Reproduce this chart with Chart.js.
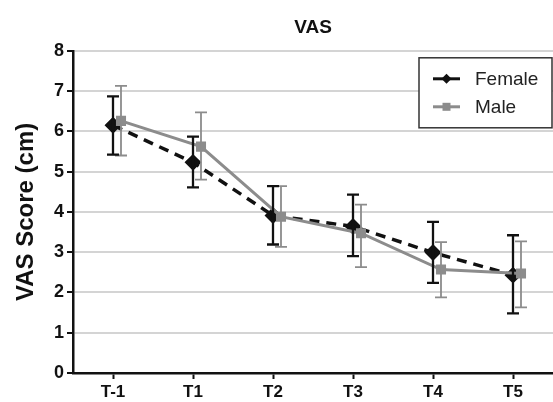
<!DOCTYPE html>
<html>
<head>
<meta charset="utf-8">
<script src="https://cdn.jsdelivr.net/npm/chart.js@4"></script>
<style>
  html, body { margin: 0; padding: 0; background: #fff; }
  #wrap { width: 553px; height: 402px; }
</style>
</head>
<body>
<div id="wrap"><canvas id="vasChart"></canvas></div>
<script>
// time points
const timePoints = ['T-1', 'T1', 'T2', 'T3', 'T4', 'T5'];

// female means and error bar ends
const femaleMean = [6.15, 5.23, 3.91, 3.64, 2.99, 2.43];
const femaleHigh = [6.87, 5.87, 4.64, 4.43, 3.75, 3.42];
const femaleLow  = [5.42, 4.61, 3.19, 2.90, 2.24, 1.48];

// male means and error bar ends
const maleMean = [6.26, 5.62, 3.88, 3.47, 2.57, 2.47];
const maleHigh = [7.13, 6.47, 4.64, 4.18, 3.25, 3.27];
const maleLow  = [5.40, 4.80, 3.13, 2.63, 1.88, 1.63];

const maleShift = 0.1; // male points sit a little to the right

const FONT = 'Liberation Sans, Arial, sans-serif';

const toPoints = (vals, shift) => vals.map((v, i) => ({ x: i + shift, y: v }));

// draws the error bars from the arrays through the chart scales
const errorBars = {
    id: 'errorBars',
    afterDatasetsDraw(chart) {
        const { ctx, scales: { x, y } } = chart;
        const sets = [
            { lo: maleLow, hi: maleHigh, shift: maleShift, color: '#8c8c8c', width: 1.8 },
            { lo: femaleLow, hi: femaleHigh, shift: 0, color: '#111', width: 2.3 }
        ];
        ctx.save();
        sets.forEach(s => {
            ctx.strokeStyle = s.color;
            ctx.lineWidth = s.width;
            s.lo.forEach((lo, i) => {
                const px = x.getPixelForValue(i + s.shift);
                const top = y.getPixelForValue(s.hi[i]);
                const bot = y.getPixelForValue(lo);
                ctx.beginPath();
                ctx.moveTo(px, top); ctx.lineTo(px, bot);
                ctx.moveTo(px - 6, top); ctx.lineTo(px + 6, top);
                ctx.moveTo(px - 6, bot); ctx.lineTo(px + 6, bot);
                ctx.stroke();
            });
        });
        ctx.restore();
    }
};

// boxed legend in the top right corner
const boxLegend = {
    id: 'boxLegend',
    afterDraw(chart) {
        const { ctx, chartArea } = chart;
        const w = 133, h = 70;
        const left = chartArea.right - w - 1, top = chartArea.top + 7;
        ctx.save();
        ctx.fillStyle = '#fff';
        ctx.fillRect(left, top, w, h);
        ctx.strokeStyle = '#333';
        ctx.lineWidth = 1.5;
        ctx.strokeRect(left, top, w, h);
        const rows = [
            { label: 'Female', color: '#111', shape: 'diamond' },
            { label: 'Male', color: '#8c8c8c', shape: 'square' }
        ];
        rows.forEach((r, k) => {
            const cy = top + 21 + k * 28;
            const lx = left + 14;
            ctx.strokeStyle = r.color;
            ctx.lineWidth = 3;
            ctx.beginPath();
            ctx.moveTo(lx, cy); ctx.lineTo(lx + 27, cy);
            ctx.stroke();
            ctx.fillStyle = r.color;
            ctx.beginPath();
            if (r.shape === 'diamond') {
                ctx.moveTo(lx + 13.5, cy - 5); ctx.lineTo(lx + 18.5, cy);
                ctx.lineTo(lx + 13.5, cy + 5); ctx.lineTo(lx + 8.5, cy);
            } else {
                ctx.rect(lx + 9.5, cy - 4, 8, 8);
            }
            ctx.fill();
            ctx.fillStyle = '#222';
            ctx.font = '19px ' + FONT;
            ctx.textBaseline = 'middle';
            ctx.fillText(r.label, lx + 42, cy + 1);
        });
        ctx.restore();
    }
};

new Chart(document.getElementById('vasChart'), {
    type: 'line',
    data: {
        datasets: [
            {
                label: 'Male',
                data: toPoints(maleMean, maleShift),
                borderColor: '#8c8c8c',
                backgroundColor: '#8c8c8c',
                borderWidth: 3,
                pointStyle: 'rect',
                pointRadius: 5,
                pointHoverRadius: 5
            },
            {
                label: 'Female',
                data: toPoints(femaleMean, 0),
                borderColor: '#111',
                backgroundColor: '#111',
                borderWidth: 3.5,
                borderDash: [10, 7],
                pointStyle: 'rectRot',
                pointRadius: 6,
                pointHoverRadius: 6
            }
        ]
    },
    options: {
        responsive: true,
        maintainAspectRatio: false,
        animation: false,
        layout: { autoPadding: false, padding: { top: 0, right: 0, left: 12, bottom: 0 } },
        plugins: {
            legend: { display: false },
            tooltip: { enabled: false },
            title: {
                display: true,
                text: 'VAS',
                fullSize: false,
                color: '#111',
                font: { family: FONT, size: 19, weight: 'bold' },
                padding: { top: 16, bottom: 12 }
            }
        },
        scales: {
            x: {
                type: 'linear',
                min: -0.5,
                max: 5.5,
                afterBuildTicks: s => { s.ticks = timePoints.map((t, i) => ({ value: i })); },
                afterFit: s => { s.height = 29; s.paddingLeft = 0; s.paddingRight = 0; },
                ticks: {
                    callback: v => timePoints[v],
                    color: '#111',
                    padding: 3,
                    font: { family: FONT, size: 17, weight: 'bold' }
                },
                grid: { drawOnChartArea: false, drawTicks: true, tickLength: 6, tickColor: '#111', tickWidth: 2 },
                border: { display: true, color: '#111', width: 2.5 }
            },
            y: {
                min: 0,
                max: 8,
                afterFit: s => { s.width = 61; s.paddingTop = 0; s.paddingBottom = 0; },
                ticks: {
                    stepSize: 1,
                    color: '#111',
                    padding: 3,
                    font: { family: FONT, size: 18, weight: 'bold' }
                },
                title: {
                    display: true,
                    text: 'VAS Score (cm)',
                    color: '#111',
                    padding: { top: 0, bottom: 4 },
                    font: { family: FONT, size: 24, weight: 'bold' }
                },
                grid: { color: '#d4d4d4', lineWidth: 2, tickColor: '#111', tickLength: 6, tickWidth: 2 },
                border: { display: true, color: '#111', width: 2.5 }
            }
        }
    },
    plugins: [errorBars, boxLegend]
});
</script>
</body>
</html>
